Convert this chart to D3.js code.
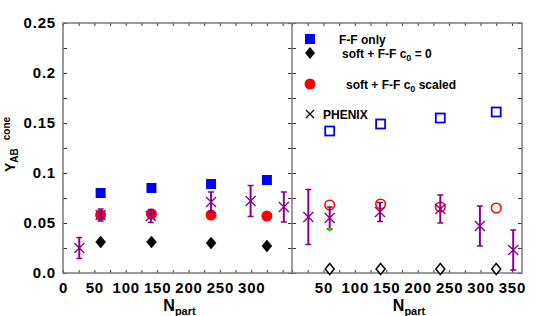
<!DOCTYPE html>
<html>
<head>
<meta charset="utf-8">
<script src="https://cdn.jsdelivr.net/npm/d3@7"></script>
<style>
  body { margin: 0; background: #fff; }
  svg { display: block; font-family: "Liberation Sans", Arial, sans-serif; font-weight: bold; }
</style>
</head>
<body>
<svg width="545" height="316"></svg>
<script>
// -------------------- Data --------------------

// model points (same Npart for every model series)
const modelNpart = [60, 141, 236, 325];

// left panel
const ffOnlyL = [0.080, 0.085, 0.089, 0.093];
const softC0L = [0.031, 0.031, 0.030, 0.027];
const softScaledL = [0.058, 0.059, 0.058, 0.057];

// right panel
const ffOnlyR = [0.142, 0.149, 0.155, 0.161];
const softC0R = [0.004, 0.004, 0.004, 0.004];
const softScaledR = [0.068, 0.069, 0.066, 0.065];

// PHENIX data
const phenixNpart = [26, 60, 140, 236, 299, 352];
const phenixL = [0.025, 0.058, 0.057, 0.071, 0.072, 0.066];
const phenixErrL = [0.0105, 0.006, 0.0065, 0.010, 0.0155, 0.015];
const phenixR = [0.056, 0.055, 0.061, 0.064, 0.047, 0.023];
const phenixErrR = [0.0275, 0.011, 0.0095, 0.014, 0.020, 0.020];

// ticks
const yLabels = ["0.0", "0.05", "0.1", "0.15", "0.2", "0.25"];
const xLabelsL = [0, 50, 100, 150, 200, 250, 300];
const xLabelsR = [50, 100, 150, 200, 250, 300, 350];

const legendItems = [
  { key: "ff", text: "F-F only" },
  { key: "c0", text: "soft + F-F c", sub: "0", after: " = 0" },
  { key: "sc", text: "soft + F-F c", sub: "0", after: " scaled" },
  { key: "ph", text: "PHENIX" }
];

// -------------------- Scales --------------------

const svg = d3.select("svg");
const pTop = 23, pBottom = 273, pLeft = 63, pMid = 292, pRight = 522;

const xL = d3.scaleLinear().domain([0, 365]).range([pLeft, pMid]);
const xR = d3.scaleLinear().domain([0, 366]).range([pMid, pRight]);
const y = d3.scaleLinear().domain([0, 0.25]).range([pBottom, pTop]);

const yTicks = d3.range(0, 0.2501, 0.025);
const xTicks = d3.range(0, 366, 25);
const frameColor = "#7a7a7a";

// -------------------- Axes --------------------

function styleAxis(g) {
  g.select(".domain").remove();
  g.selectAll("line").attr("stroke", "#333");
  g.selectAll("text").attr("fill", "#000").attr("font-size", 15)
    .attr("font-weight", "bold").style("letter-spacing", "0.8px");
}

// left y axis with labels
svg.append("g")
  .attr("transform", `translate(${pLeft},0)`)
  .call(d3.axisLeft(y).tickValues(yTicks).tickSize(-4).tickPadding(7)
    .tickFormat((d, i) => i % 2 === 0 ? yLabels[i / 2] : ""))
  .call(styleAxis);

// divider ticks on both sides, right edge ticks
svg.append("g").attr("transform", `translate(${pMid},0)`)
  .call(d3.axisRight(y).tickValues(yTicks).tickSize(-4).tickFormat(""))
  .call(styleAxis);
svg.append("g").attr("transform", `translate(${pMid},0)`)
  .call(d3.axisLeft(y).tickValues(yTicks).tickSize(-4).tickFormat(""))
  .call(styleAxis);
svg.append("g").attr("transform", `translate(${pRight},0)`)
  .call(d3.axisRight(y).tickValues(yTicks).tickSize(-4).tickFormat(""))
  .call(styleAxis);

// x axes
[[xL, xLabelsL], [xR, xLabelsR]].forEach(([x, labels]) => {
  svg.append("g")
    .attr("transform", `translate(0,${pBottom})`)
    .call(d3.axisBottom(x).tickValues(xTicks).tickSize(-3).tickPadding(9)
      .tickFormat(d => labels.includes(d) ? d : ""))
    .call(styleAxis);
  svg.append("g")
    .attr("transform", `translate(0,${pTop})`)
    .call(d3.axisTop(x).tickValues(xTicks).tickSize(-3).tickFormat(""))
    .call(styleAxis);

  const t = svg.append("text")
    .attr("x", (x.range()[0] + x.range()[1]) / 2 + 2)
    .attr("y", 311)
    .attr("text-anchor", "middle")
    .attr("font-size", 16);
  t.append("tspan").text("N");
  t.append("tspan").attr("font-size", 11).attr("dy", 4).text("part");
});

// frame
svg.append("rect")
  .attr("x", pLeft).attr("y", pTop)
  .attr("width", pRight - pLeft).attr("height", pBottom - pTop)
  .attr("fill", "none").attr("stroke", frameColor).attr("stroke-width", 1.5);
svg.append("line")
  .attr("x1", pMid).attr("x2", pMid).attr("y1", pTop).attr("y2", pBottom)
  .attr("stroke", frameColor).attr("stroke-width", 1.5);

// y label
const yl = svg.append("text")
  .attr("transform", "translate(14.5,172) rotate(-90)")
  .attr("font-size", 14);
yl.append("tspan").text("Y");
yl.append("tspan").attr("font-size", 10).attr("dy", 3).text("AB");
yl.append("tspan").attr("font-size", 10).attr("dx", 8).attr("dy", -8).text("cone");

// -------------------- Markers --------------------

const diamond = (cx, cy, w, h) =>
  `M${cx},${cy - h}L${cx + w},${cy}L${cx},${cy + h}L${cx - w},${cy}Z`;

function drawModels(x, ff, c0, sc, open) {
  const g = svg.append("g");
  const pts = (vals) => modelNpart.map((n, i) => ({ n, v: vals[i] }));

  g.selectAll(".sq").data(pts(ff)).enter().append("rect")
    .attr("x", d => x(d.n) - (open ? 4.5 : 5))
    .attr("y", d => y(d.v) - (open ? 4.5 : 5))
    .attr("width", open ? 9 : 10).attr("height", open ? 9 : 10)
    .attr("fill", open ? "none" : "#0000ff")
    .attr("stroke", open ? "#0000ff" : "none")
    .attr("stroke-width", 1.8);

  g.selectAll(".dm").data(pts(c0)).enter().append("path")
    .attr("d", d => diamond(x(d.n), y(d.v), open ? 4.5 : 5, open ? 5.5 : 6))
    .attr("fill", open ? "#fff" : "#000")
    .attr("stroke", "#000")
    .attr("stroke-width", open ? 1.5 : 0.5);

  g.selectAll(".ci").data(pts(sc)).enter().append("circle")
    .attr("cx", d => x(d.n)).attr("cy", d => y(d.v))
    .attr("r", open ? 4.8 : 5.5)
    .attr("fill", open ? "none" : "#ff0000")
    .attr("stroke", open ? "#ff0000" : "none")
    .attr("stroke-width", 1.6);
}

function drawPhenix(x, vals, errs) {
  const color = "#880088";
  const g = svg.append("g");
  const data = phenixNpart.map((n, i) => ({ n, v: vals[i], e: errs[i] }));
  const pt = g.selectAll("g").data(data).enter().append("g");

  pt.append("line")
    .attr("x1", d => x(d.n)).attr("x2", d => x(d.n))
    .attr("y1", d => y(d.v - d.e)).attr("y2", d => y(d.v + d.e))
    .attr("stroke", color).attr("stroke-width", 2);
  [-1, 1].forEach(s => {
    pt.append("line")
      .attr("x1", d => x(d.n) - 3).attr("x2", d => x(d.n) + 3)
      .attr("y1", d => y(d.v + s * d.e)).attr("y2", d => y(d.v + s * d.e))
      .attr("stroke", color).attr("stroke-width", 1.5);
  });
  pt.append("path")
    .attr("d", d => {
      const cx = x(d.n), cy = y(d.v);
      return `M${cx - 5},${cy - 5}L${cx + 5},${cy + 5}M${cx - 5},${cy + 5}L${cx + 5},${cy - 5}`;
    })
    .attr("stroke", color).attr("stroke-width", 1.3);
}

drawModels(xL, ffOnlyL, softC0L, softScaledL, false);
drawModels(xR, ffOnlyR, softC0R, softScaledR, true);
drawPhenix(xL, phenixL, phenixErrL);
drawPhenix(xR, phenixR, phenixErrR);

// small green mark at the lower end of one PHENIX bar
svg.append("rect")
  .attr("x", xR(phenixNpart[1]) - 1.5)
  .attr("y", y(phenixR[1] - phenixErrR[1]) - 1)
  .attr("width", 3).attr("height", 3)
  .attr("fill", "#22cc22");

// -------------------- Legend --------------------

const legendY = [39, 53, 84, 114];
const legendTextX = [339, 342, 346, 323];
const lg = svg.append("g");

legendItems.forEach((item, i) => {
  const cx = 310, cy = legendY[i];
  if (item.key === "ff") {
    lg.append("rect").attr("x", cx - 5).attr("y", cy - 5)
      .attr("width", 10).attr("height", 10).attr("fill", "#0000ff");
  } else if (item.key === "c0") {
    lg.append("path").attr("d", diamond(cx, cy, 5, 6)).attr("fill", "#000");
  } else if (item.key === "sc") {
    lg.append("circle").attr("cx", cx).attr("cy", cy).attr("r", 5.5).attr("fill", "#ff0000");
  } else {
    lg.append("path")
      .attr("d", `M${cx - 4},${cy - 4}L${cx + 4},${cy + 4}M${cx - 4},${cy + 4}L${cx + 4},${cy - 4}`)
      .attr("stroke", "#000").attr("stroke-width", 1.2);
  }
  const t = lg.append("text")
    .attr("x", legendTextX[i]).attr("y", cy + 4.5)
    .attr("font-size", 12);
  t.append("tspan").text(item.text);
  if (item.sub) {
    t.append("tspan").attr("font-size", 9).attr("dy", 3).text(item.sub);
    t.append("tspan").attr("dy", -3).text(item.after);
  }
});
</script>
</body>
</html>
